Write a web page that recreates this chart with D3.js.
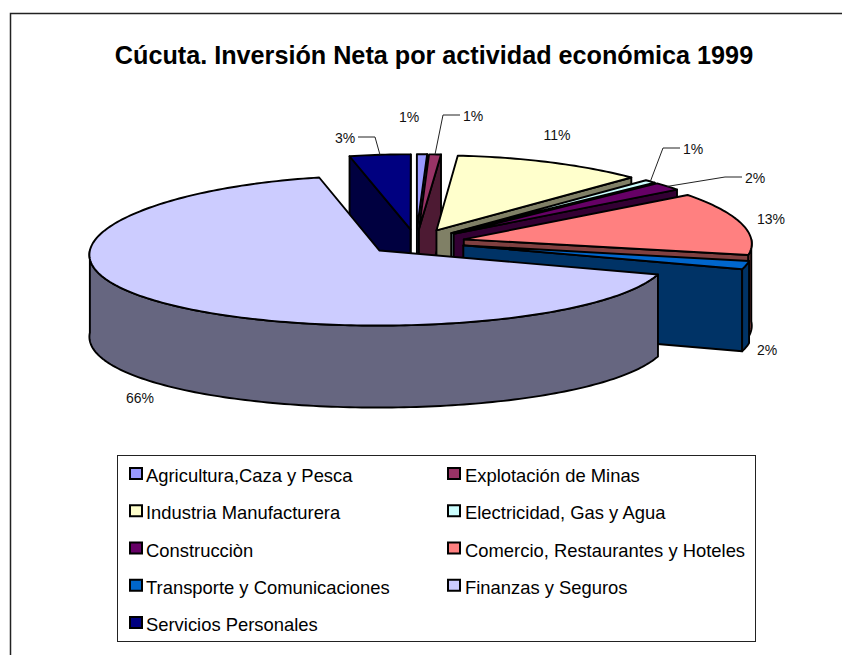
<!DOCTYPE html>
<html><head><meta charset="utf-8">
<script src="https://cdn.jsdelivr.net/npm/d3@7/dist/d3.min.js"></script>
<style>html,body{margin:0;padding:0;background:#fff}svg{display:block}text{font-family:"Liberation Sans",Arial,sans-serif}</style>
</head><body><svg id="c" width="842" height="655"></svg>
<script>
const titleText = "Cúcuta. Inversión Neta por actividad económica 1999";
const categories = ["Agricultura,Caza y Pesca","Explotación de Minas","Industria Manufacturera","Electricidad, Gas y Agua","Construcciòn","Comercio, Restaurantes y Hoteles","Transporte y Comunicaciones","Finanzas y Seguros","Servicios Personales"];
const values = [0.6,0.7,11.2,0.7,1.7,13.4,1.8,66.1,3.6];
const labels = ["1%","1%","11%","1%","2%","13%","2%","66%","3%"];
const colors = ["#9999FF","#993366","#FFFFCC","#CCFFFF","#660066","#FF8080","#0066CC","#CCCCFF","#000080"];

const svg = d3.select("#c");
svg.append("rect").attr("x",10.5).attr("y",13.5).attr("width",860).attr("height",680)
  .attr("fill","#fff").attr("stroke","#222").attr("stroke-width",1.5);
svg.append("text").attr("x",434).attr("y",64).attr("text-anchor","middle")
  .attr("font-size",25.2).attr("font-weight","bold").attr("fill","#000").text(titleText);

// projection of the exploded pie
const cx=416, cy=242, rx=288, ry=75, ex=0.17, depth=82, keystone=0.05;
const px=d3.scaleLinear().domain([-1,1]).range([cx-rx,cx+rx]);
const py=d3.scaleLinear().domain([-1,1]).range([cy+ry,cy-ry]);
const arcs=d3.pie().sort(null).value(d=>d)(values).map((a,i)=>({...a,i,mid:(a.startAngle+a.endAngle)/2}));
function pt(a,th,r,z=0){
  const u=ex*Math.sin(a.mid)+r*Math.sin(th), v=ex*Math.cos(a.mid)+r*Math.cos(th);
  return [px(u/(1+keystone*v)), py(v)+z];
}
const dark=c=>{const k=d3.rgb(c);return d3.rgb(k.r/2,k.g/2,k.b/2).formatHex();};
function rim(a,t0,t1,z){const n=Math.max(2,Math.ceil((t1-t0)/0.02));return d3.range(n+1).map(i=>pt(a,t0+(t1-t0)*i/n,1,z));}
const line=d3.line();
const g=svg.append("g").attr("stroke","#000").attr("stroke-width",1.9).attr("stroke-linejoin","round");
const HALF=Math.PI/2, TH=Math.PI*1.5;
const order=[8,0,1,2,3,4,5,6,7];
order.forEach(i=>{
  const a=arcs[i], c=colors[i], d=dark(c);
  const t0=a.startAngle,t1=a.endAngle;
  const wall=t=>g.append("path").attr("d",line([pt(a,0,0),pt(a,t,1),pt(a,t,1,depth),pt(a,0,0,depth)])+"Z").attr("fill",d);
  if(i===8){ wall(t1); wall(t0); }
  else if(a.mid<Math.PI && i!==7){ wall(t1); }
  const w0=Math.max(t0,HALF), w1=Math.min(t1,TH);
  if(w1>w0){
    g.append("path").attr("d",line(rim(a,w0,w1,0).concat(rim(a,w0,w1,depth).reverse()))+"Z").attr("fill",d);
  }
  g.append("path").attr("d",line([pt(a,0,0)].concat(rim(a,t0,t1,0)))+"Z").attr("fill",c);
});

// data labels and leader lines
const labelPos=[[409,117],[473,116],[557,135],[693,149],[755,178],[771,219],[767,350],[140,398],[345,138]];
const lab=svg.append("g");
arcs.forEach((a,i)=>{
  const [lx,ly]=labelPos[i];
  lab.append("text").attr("x",lx).attr("y",ly+5).attr("text-anchor","middle")
    .attr("font-size",14).attr("fill","#111").text(labels[i]);
  const dir = {1:-1,3:-1,4:-1,8:1}[i];
  if(dir){
    const pts=[[lx+dir*13,ly-1],[lx+dir*30,ly-1],pt(a,a.mid,1)];
    lab.append("path").attr("d",line(pts)).attr("fill","none").attr("stroke","#222").attr("stroke-width",1);
  }
});

// legend
const leg=svg.append("g");
leg.append("rect").attr("x",117.5).attr("y",455.5).attr("width",638).attr("height",186)
  .attr("fill","#fff").attr("stroke","#222").attr("stroke-width",1);
const colX=d3.scalePoint().domain([0,1]).range([130,448]);
const rowY=d3.scalePoint().domain([0,1,2,3,4]).range([473,622]);
categories.forEach((c,i)=>{
  const col=i%2,row=Math.floor(i/2);
  leg.append("rect").attr("x",colX(col)).attr("y",rowY(row)-5).attr("width",12).attr("height",11)
    .attr("fill",colors[i]).attr("stroke","#000").attr("stroke-width",2);
  leg.append("text").attr("x",colX(col)+(col?17:16)).attr("y",rowY(row)+9)
    .attr("font-size",18.4).attr("fill","#000").text(c);
});
</script></body></html>
